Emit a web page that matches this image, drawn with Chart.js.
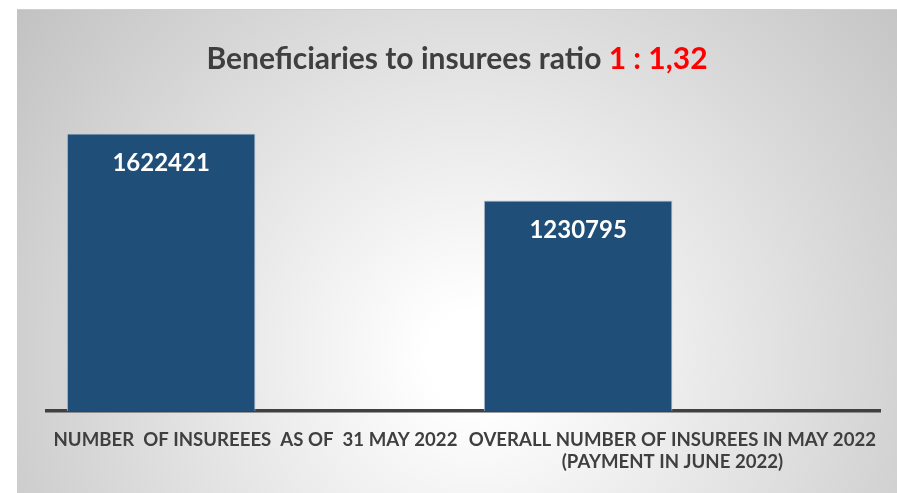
<!DOCTYPE html>
<html>
<head>
<meta charset="utf-8">
<script src="https://cdn.jsdelivr.net/npm/chart.js@4"></script>
<style>
  html, body { margin: 0; padding: 0; background: #fff; }
  #frame {
    position: absolute; left: 17px; top: 9px; width: 880px; height: 484px;
    box-sizing: border-box; border-top: 1px solid #cfcfcf;
    background: radial-gradient(circle at 52% 72%, #ffffff 0%, #ffffff 8%, #c2c2c2 100%);
  }
  canvas { display: block; }
</style>
</head>
<body>
<div id="frame"><canvas id="chart" width="880" height="483"></canvas></div>
<script>
// values
const categories = [
  'NUMBER  OF INSUREEES  AS OF  31 MAY 2022',
  ['OVERALL NUMBER OF INSUREES IN MAY 2022', '(PAYMENT IN JUNE 2022)']
];
const insurees = [1622421, 1230795];
const emptySeries = [null, null];
const titleText = 'Beneficiaries to insurees ratio ';
const ratioText = '1 : 1,32';

// title in two colours
const titlePlugin = {
  id: 'twoColourTitle',
  afterDraw(chart) {
    const ctx = chart.ctx;
    ctx.save();
    ctx.font = 'bold 30px Lato';
    ctx.textBaseline = 'middle';
    const w1 = ctx.measureText(titleText).width;
    const w2 = ctx.measureText(ratioText).width;
    const x0 = chart.width / 2 - (w1 + w2) / 2;
    ctx.fillStyle = '#3f3f3f';
    ctx.fillText(titleText, x0, 49);
    ctx.fillStyle = '#ff0000';
    ctx.fillText(ratioText, x0 + w1, 49);
    ctx.restore();
  }
};

// value labels inside the top of the bars
const valueLabels = {
  id: 'valueLabels',
  afterDatasetsDraw(chart) {
    const ctx = chart.ctx;
    const meta = chart.getDatasetMeta(0);
    ctx.save();
    ctx.font = 'bold 24px Lato';
    ctx.fillStyle = '#ffffff';
    ctx.textAlign = 'center';
    ctx.textBaseline = 'middle';
    meta.data.forEach((bar, i) => {
      ctx.fillText(String(insurees[i]), bar.x, bar.y + 30);
    });
    ctx.restore();
  }
};

new Chart(document.getElementById('chart'), {
  type: 'bar',
  data: {
    labels: categories,
    datasets: [
      { data: insurees, backgroundColor: '#1f4e79', borderColor: '#b7c4d3', borderWidth: 1,
        categoryPercentage: 0.905, barPercentage: 1 },
      { data: emptySeries, backgroundColor: '#1f4e79',
        categoryPercentage: 0.905, barPercentage: 1 }
    ]
  },
  options: {
    responsive: false,
    animation: false,
    layout: { padding: { top: 93, left: 30, right: 12, bottom: 2 } },
    plugins: { legend: { display: false }, tooltip: { enabled: false }, title: { display: false } },
    scales: {
      x: {
        grid: { display: false, drawTicks: false },
        border: { display: true, color: '#404040', width: 3.5 },
        ticks: {
          color: '#3f3f3f', font: { family: 'Lato', weight: 'bold', size: 18.6, lineHeight: 1.18 },
          padding: 18, maxRotation: 0, autoSkip: false
        }
      },
      y: { display: false, min: 0, max: 1800000 }
    }
  },
  plugins: [titlePlugin, valueLabels]
});
</script>
</body>
</html>
